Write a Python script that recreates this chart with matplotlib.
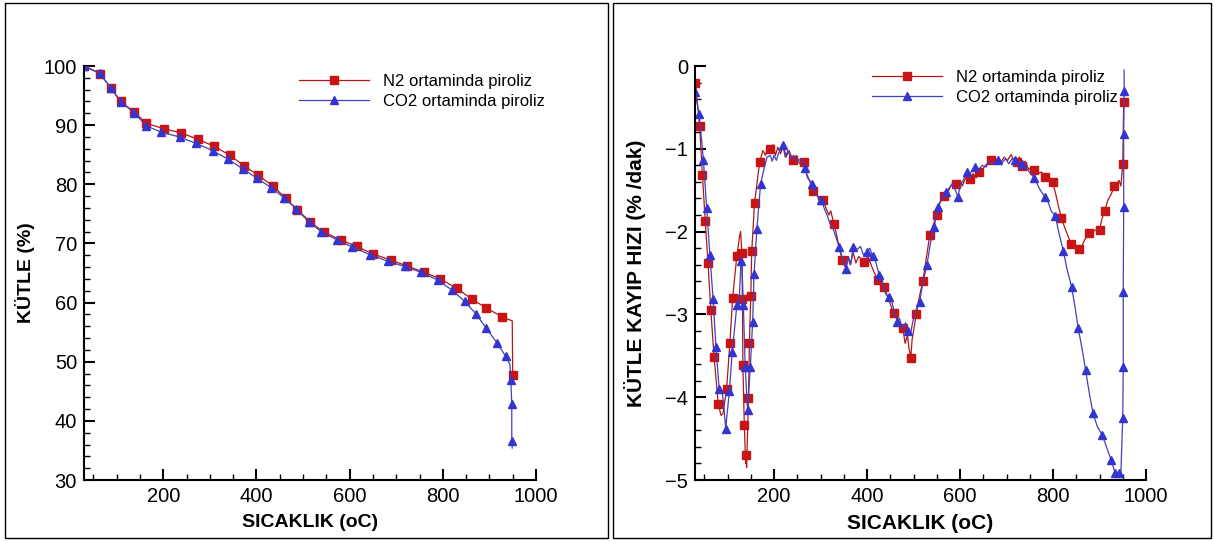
import numpy as np
import matplotlib
matplotlib.use("Agg")
import matplotlib.pyplot as plt
from matplotlib.patches import Rectangle
from matplotlib.ticker import MultipleLocator
from matplotlib.lines import Line2D

plt.rcParams['font.family'] = ['Liberation Sans', 'DejaVu Sans']

# ---------------- data ----------------
legend_labels = ["N2 ortaminda piroliz", "CO2 ortaminda piroliz"]
x_label = "SICAKLIK (oC)"
y_label_left = "KÜTLE (%)"
y_label_right = "KÜTLE KAYIP HIZI (% /dak)"

# mass (%) - marked points
n2_mass_T = [30, 64, 88, 109, 138, 164, 201, 238, 275, 310, 343, 374, 404, 436, 463, 488,
             516, 545, 581, 615, 651, 688, 723, 760, 795, 830, 862, 893, 927, 950]
n2_mass_m = [100, 98.7, 96.3, 94.0, 92.2, 90.3, 89.4, 88.7, 87.6, 86.4, 84.9, 83.1, 81.5, 79.7,
             77.6, 75.7, 73.6, 71.9, 70.6, 69.5, 68.2, 67.2, 66.2, 65.1, 64.0, 62.4, 60.6, 59.1,
             57.6, 47.8]
# mass - unmarked line points
n2_mass_T_line = [949]
n2_mass_m_line = [56.9]

co2_mass_T = [30, 64, 88, 109, 138, 163, 196, 235, 271, 306, 340, 371, 402, 432, 460, 486,
              513, 539, 573, 606, 644, 682, 718, 754, 789, 820, 847, 871, 893, 916, 935, 946,
              948, 948]
co2_mass_m = [100, 98.8, 96.2, 93.9, 92.1, 89.9, 88.8, 88.0, 86.9, 85.7, 84.2, 82.6, 81.0, 79.4,
              77.7, 75.8, 73.6, 72.0, 70.6, 69.4, 68.1, 67.0, 66.1, 65.1, 63.8, 62.1, 60.2, 58.1,
              55.7, 53.2, 50.9, 46.9, 42.9, 36.6]
co2_mass_T_line = [944, 949]
co2_mass_m_line = [49.6, 35.4]

# mass loss rate (%/dak) - marked points
n2_rate_T = [31, 40, 46, 52, 58, 64, 71, 80, 98, 105, 111, 120, 131, 132, 133, 136, 140, 145, 147,
             150, 152, 158, 169, 192, 241, 264, 284, 306, 329, 347, 394, 423, 437, 457, 477, 494,
             506, 520, 535, 550, 565, 592, 621, 641, 666, 722, 733, 760, 782, 799, 818, 839, 856,
             877, 900, 911, 932, 950, 952]
n2_rate_v = [-0.20, -0.73, -1.32, -1.87, -2.38, -2.95, -3.51, -4.08, -3.90, -3.35, -2.80, -2.29,
             -2.26, -2.82, -3.61, -4.33, -4.70, -4.01, -3.35, -2.78, -2.24, -1.66, -1.16, -1.00,
             -1.14, -1.16, -1.51, -1.62, -1.91, -2.34, -2.37, -2.58, -2.67, -2.98, -3.17, -3.53,
             -3.00, -2.60, -2.04, -1.80, -1.57, -1.42, -1.36, -1.28, -1.13, -1.16, -1.21, -1.26,
             -1.34, -1.40, -1.83, -2.15, -2.21, -2.02, -1.98, -1.75, -1.45, -1.18, -0.44]
# rate - unmarked line points
n2_rate_T_line = [29, 86, 90, 126, 128, 139, 141, 176, 182, 186, 198, 203, 208, 214, 220, 226,
                  232, 248, 255, 270, 276, 290, 296, 312, 318, 322, 335, 340, 352, 358, 364, 370,
                  376, 382, 402, 410, 416, 445, 464, 470, 482, 487, 490, 497, 512, 528, 542, 557,
                  572, 580, 600, 605, 612, 628, 635, 648, 655, 672, 680, 688, 695, 702, 710, 716,
                  728, 740, 748, 755, 768, 775, 790, 806, 812, 825, 832, 845, 850, 862, 868, 885,
                  892, 905, 918, 925, 938, 942, 946]
n2_rate_v_line = [-0.12, -4.22, -4.20, -2.05, -2.00, -4.80, -4.85, -1.02, -1.08, -0.97, -0.95,
                  -1.08, -0.98, -1.06, -0.96, -1.10, -1.02, -1.08, -1.18, -1.30, -1.38, -1.50,
                  -1.62, -1.72, -1.80, -1.75, -2.05, -2.20, -2.42, -2.30, -2.40, -2.25, -2.38,
                  -2.30, -2.30, -2.42, -2.50, -2.80, -3.05, -3.15, -3.35, -3.25, -3.40, -3.30,
                  -2.80, -2.30, -1.92, -1.65, -1.55, -1.45, -1.38, -1.45, -1.35, -1.30, -1.35,
                  -1.25, -1.20, -1.18, -1.12, -1.16, -1.10, -1.14, -1.07, -1.15, -1.10, -1.15,
                  -1.25, -1.22, -1.30, -1.28, -1.35, -1.55, -1.70, -1.95, -2.05, -2.12, -2.25,
                  -2.18, -2.10, -2.00, -1.98, -1.85, -1.62, -1.55, -1.42, -1.38, -1.45]

co2_rate_T = [30, 39, 48, 55, 62, 69, 75, 82, 96, 104, 110, 120, 129, 134, 138, 143, 149, 154,
              157, 163, 171, 219, 266, 282, 302, 340, 355, 370, 400, 412, 426, 447, 465, 489,
              513, 529, 544, 553, 569, 596, 614, 632, 682, 718, 733, 760, 783, 805, 822, 840,
              854, 870, 886, 906, 925, 934, 942, 950, 951, 951, 952, 952, 953]
co2_rate_v = [-0.32, -0.58, -1.13, -1.71, -2.28, -2.82, -3.39, -3.90, -4.38, -3.92, -3.46, -2.89,
              -2.35, -2.89, -3.64, -4.16, -3.63, -3.09, -2.51, -1.97, -1.43, -0.95, -1.23, -1.42,
              -1.62, -2.18, -2.45, -2.19, -2.25, -2.30, -2.52, -2.79, -3.09, -3.20, -2.85, -2.40,
              -1.95, -1.70, -1.52, -1.58, -1.28, -1.22, -1.14, -1.13, -1.18, -1.35, -1.58, -1.81,
              -2.23, -2.67, -3.16, -3.67, -4.19, -4.46, -4.76, -4.92, -4.91, -4.25, -3.64, -2.73,
              -1.70, -0.82, -0.30]
co2_rate_T_line = [29, 88, 92, 100, 125, 131, 146, 178, 185, 192, 196, 200, 205, 210, 215, 224,
                   230, 236, 242, 250, 258, 272, 290, 296, 308, 314, 320, 326, 332, 346, 350,
                   360, 365, 378, 386, 392, 406, 418, 432, 440, 452, 458, 470, 476, 483, 493,
                   498, 505, 520, 536, 560, 576, 583, 590, 600, 607, 620, 626, 640, 648, 656,
                   664, 672, 690, 698, 705, 712, 725, 745, 752, 768, 775, 790, 796, 812, 830,
                   847, 862, 878, 895, 915, 930, 938, 946, 953]
co2_rate_v_line = [-0.25, -3.92, -4.10, -4.15, -2.85, -2.40, -3.90, -1.25, -1.10, -1.08, -1.15,
                   -1.08, -1.14, -1.05, -1.00, -1.10, -1.02, -1.12, -1.08, -1.15, -1.12, -1.35,
                   -1.55, -1.58, -1.72, -1.80, -1.90, -1.95, -2.05, -2.30, -2.35, -2.30, -2.40,
                   -2.22, -2.18, -2.28, -2.20, -2.35, -2.60, -2.75, -2.82, -2.95, -3.05, -3.18,
                   -3.10, -3.25, -3.10, -2.95, -2.62, -2.15, -1.60, -1.48, -1.42, -1.50, -1.45,
                   -1.38, -1.32, -1.26, -1.25, -1.20, -1.22, -1.15, -1.18, -1.17, -1.12, -1.18,
                   -1.12, -1.20, -1.25, -1.30, -1.45, -1.52, -1.65, -1.75, -2.00, -2.45, -2.90,
                   -3.40, -3.95, -4.35, -4.60, -4.85, -4.97, -4.90, -0.05]

RED = '#C81414'
RED_LINE = '#B01818'
BLUE = '#3434D0'
BLUE_LINE = '#4040C0'


def merge(tm, vm, tl, vl):
    t = np.concatenate([np.asarray(tm, float), np.asarray(tl, float)])
    v = np.concatenate([np.asarray(vm, float), np.asarray(vl, float)])
    order = np.argsort(t, kind='stable')
    return t[order], v[order]


W, H = 1214, 541
fig = plt.figure(figsize=(W / 100, H / 100), dpi=100)

# panel borders
for (x0, x1) in [(5, 608), (613, 1211)]:
    fig.add_artist(Rectangle((x0 / W, 3 / H), (x1 - x0) / W, (538 - 3) / H,
                             transform=fig.transFigure, fill=False, ec='black', lw=1.0))


def style_axes(ax, ymajor, yminor, ylabel, ylabelpad, label_fs):
    for s in ['top', 'right']:
        ax.spines[s].set_visible(False)
    for s in ['left', 'bottom']:
        ax.spines[s].set_linewidth(1.5)
    ax.xaxis.set_major_locator(MultipleLocator(200))
    ax.xaxis.set_minor_locator(MultipleLocator(50))
    ax.yaxis.set_major_locator(MultipleLocator(ymajor))
    ax.yaxis.set_minor_locator(MultipleLocator(yminor))
    ax.tick_params(which='major', direction='in', length=8, width=1.5, labelsize=14.5, pad=5)
    ax.tick_params(which='minor', direction='in', length=4.5, width=1.0)
    ax.tick_params(axis='x', which='major', pad=5)
    ax.set_xlabel(x_label, fontsize=label_fs, fontweight='bold', labelpad=6)
    ax.set_ylabel(ylabel, fontsize=label_fs, fontweight='bold', labelpad=ylabelpad)


# ---------------- left: mass ----------------
axL = fig.add_axes([84 / W, 61 / H, (536 - 84) / W, (480 - 66) / H])
t, v = merge(n2_mass_T, n2_mass_m, n2_mass_T_line, n2_mass_m_line)
axL.plot(t, v, color=RED_LINE, lw=0.9)
axL.plot(n2_mass_T, n2_mass_m, ls='none', marker='s', ms=5.2, color=RED)
t, v = merge(co2_mass_T, co2_mass_m, co2_mass_T_line, co2_mass_m_line)
axL.plot(t, v, color=BLUE_LINE, lw=0.9)
axL.plot(co2_mass_T, co2_mass_m, ls='none', marker='^', ms=5.2, color=BLUE)
axL.set_xlim(30, 1000)
axL.set_ylim(30, 100)
style_axes(axL, 10, 2, y_label_left, 6, 14)

# ---------------- right: rate ----------------
axR = fig.add_axes([695 / W, 61 / H, (1146 - 695) / W, (480 - 66) / H])
t, v = merge(n2_rate_T, n2_rate_v, n2_rate_T_line, n2_rate_v_line)
axR.plot(t, v, color=RED_LINE, lw=0.9)
axR.plot(n2_rate_T, n2_rate_v, ls='none', marker='s', ms=5.2, color=RED)
t, v = merge(co2_rate_T, co2_rate_v, co2_rate_T_line, co2_rate_v_line)
axR.plot(t, v, color=BLUE_LINE, lw=0.9)
axR.plot(co2_rate_T, co2_rate_v, ls='none', marker='^', ms=5.2, color=BLUE)
axR.set_xlim(30, 1000)
axR.set_ylim(-5, 0)
style_axes(axR, 1, 0.2, y_label_right, 14, 15)


def add_legend(ax, x_px, y_px):
    handles = [Line2D([], [], color=RED_LINE, lw=0.9, marker='s', ms=5.2, mfc=RED, mec=RED),
               Line2D([], [], color=BLUE_LINE, lw=0.9, marker='^', ms=5.2, mfc=BLUE, mec=BLUE)]
    ax.legend(handles, legend_labels, loc='upper left',
              bbox_to_anchor=(x_px / W, 1 - y_px / H), bbox_transform=fig.transFigure,
              frameon=False, fontsize=12, handlelength=4.2, handletextpad=0.85,
              labelspacing=0.32, borderpad=0, borderaxespad=0, markerscale=1.0)


add_legend(axL, 299, 74)
add_legend(axR, 872, 70)

fig.savefig('out.png', dpi=100)
